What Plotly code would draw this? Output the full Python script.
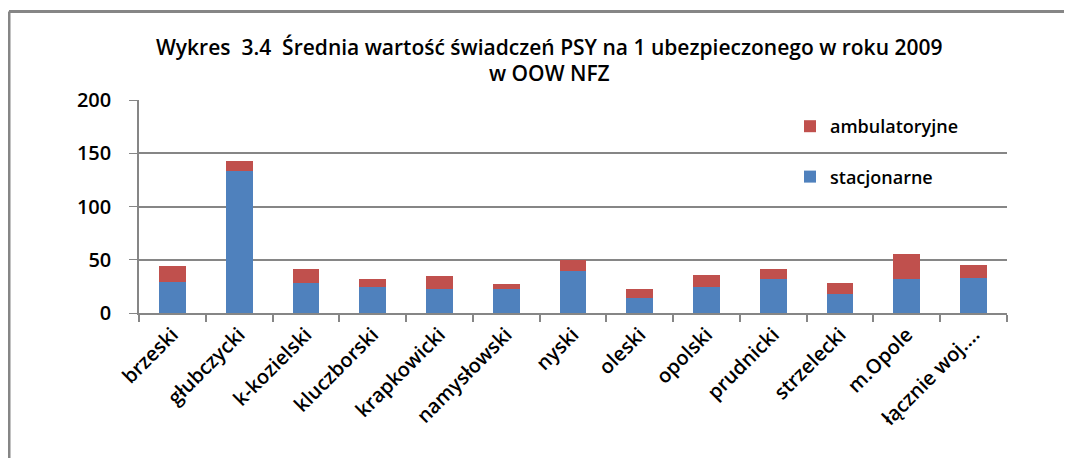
import plotly.graph_objects as go

categories = ["brzeski", "głubczycki", "k-kozielski", "kluczborski", "krapkowicki",
              "namysłowski", "nyski", "oleski", "opolski", "prudnicki",
              "strzelecki", "m.Opole", "łącznie woj.…"]
stacjonarne = [29, 133, 28, 24, 23, 23, 39, 14, 24, 32, 18, 32, 33]
ambulatoryjne = [15, 10, 13, 8, 12, 4, 11, 8.5, 12, 9, 10, 23.5, 12]
y_ticks = [0, 50, 100, 150, 200]

# page has an 8px body margin; work in page pixels and convert
OFF = 8
W, H = 1072 - OFF, 458 - OFF
PL, PR, PT, PB = 139, 1007, 100, 313  # plot area in page pixels
L, T = PL - OFF, PT - OFF
R = W - (PR - OFF)
B = H - (PB - OFF)
pw, ph = W - L - R, H - T - B

def px_x(p):
    return (p - PL) / pw

def px_y(p):
    return 1 - (p - PT) / ph

fig = go.Figure()
fig.add_trace(go.Bar(x=categories, y=stacjonarne, name="stacjonarne",
                     marker=dict(color="#4F81BD", line=dict(width=0)),
                     legendgroup="s", legendrank=2))
fig.add_trace(go.Bar(x=categories, y=ambulatoryjne, name="ambulatoryjne",
                     marker=dict(color="#C0504D", line=dict(width=0)),
                     legendgroup="a", legendrank=1))

font = "Open Sans, DejaVu Sans, sans-serif"
grid = "#868686"

fig.update_layout(
    width=W, height=H,
    barmode="stack", bargap=0.6,
    margin=dict(l=L, r=R, t=T, b=B),
    paper_bgcolor="white", plot_bgcolor="white",
    font=dict(family=font, color="black"),
    showlegend=True,
    legend=dict(x=px_x(790), y=px_y(108), xanchor="left", yanchor="top",
                traceorder="grouped", tracegroupgap=24,
                font=dict(size=18, color="black", weight=600),
                bgcolor="rgba(0,0,0,0)"),
    xaxis=dict(type="category", tickangle=-45, tickson="boundaries",
               ticks="outside", ticklen=7, tickcolor=grid, tickwidth=2,
               showline=True, linecolor=grid, linewidth=2,
               tickfont=dict(size=20, color="black", weight=600), showgrid=False),
    yaxis=dict(range=[0, 200], tickvals=y_ticks, showgrid=True, gridcolor=grid,
               gridwidth=1.5, ticks="outside", ticklen=8, tickcolor=grid,
               showline=True, linecolor=grid, linewidth=1.5, zeroline=False,
               tickfont=dict(size=20, color="black", weight=600),
               ticklabelstandoff=14),
    annotations=[
        dict(text="Wykres  3.4  Średnia wartość świadczeń PSY na 1 ubezpieczonego w roku 2009",
             x=px_x(549), y=px_y(47), xref="paper", yref="paper", showarrow=False,
             xanchor="center", yanchor="middle",
             font=dict(size=21, family=font, color="black", weight=600)),
        dict(text="w OOW NFZ",
             x=px_x(549), y=px_y(73), xref="paper", yref="paper", showarrow=False,
             xanchor="center", yanchor="middle",
             font=dict(size=21, family=font, color="black", weight=600)),
    ],
    shapes=[
        dict(type="line", xref="paper", yref="paper", x0=px_x(9), x1=px_x(1080),
             y0=px_y(11.5), y1=px_y(11.5), line=dict(color=grid, width=3)),
        dict(type="line", xref="paper", yref="paper", x0=px_x(9), x1=px_x(9),
             y0=px_y(11.5), y1=px_y(470), line=dict(color=grid, width=3)),
    ],
)

fig.write_html("out.html")
